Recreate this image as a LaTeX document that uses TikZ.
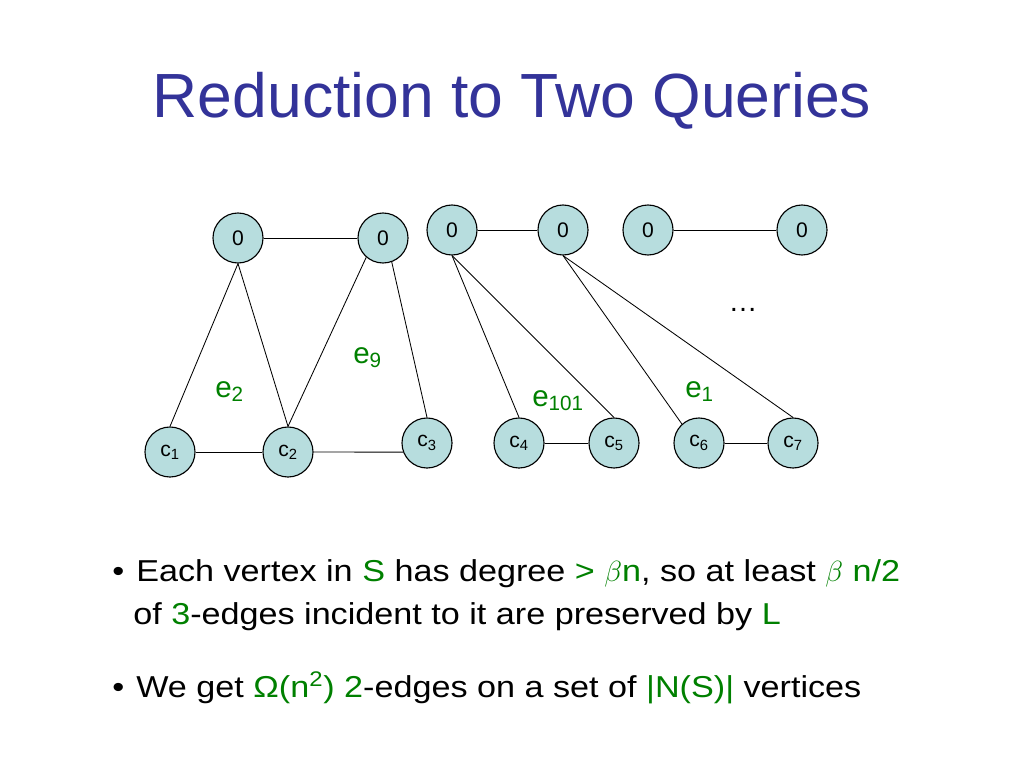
\documentclass[tikz,border=0pt]{standalone}
\usepackage{fontspec}
\setmainfont{Liberation Sans}
\newfontfamily\bodyfont{Liberation Sans}[FakeStretch=1.13]
\definecolor{titleBlue}{RGB}{51,51,153}
\definecolor{labelGreen}{RGB}{0,128,0}
\definecolor{nodeFill}{RGB}{183,221,222}

\begin{document}
\begin{tikzpicture}
[x=0.025cm,y=-0.025cm,
  lineDecorate/.style={-,line width=0.6pt},%
  nodeDecorate/.style={shape=circle,minimum size=1.25cm,inner sep=0pt,draw,line width=0.8pt,
    fill=nodeFill,font=\fontsize{15}{17}\selectfont},%
  edgeLabel/.style={anchor=base west,inner sep=0pt,text=labelGreen,font=\fontsize{21}{24}\selectfont},%
  bulletText/.style={anchor=base west,inner sep=0pt,font=\bodyfont\fontsize{21.5}{25}\selectfont}]
\useasboundingbox (0,0) rectangle (1024,768);
%% title
\node (title) at (512,118) [anchor=base,inner sep=0pt,text=titleBlue,
  font=\fontsize{44.4}{50}\selectfont] {Reduction to Two Queries};
%% nodes or vertices
\foreach \nodename/\x/\y/\txt in {
  a1/238/238/0, a2/383/238/0, a3/452/230/0, a4/563/230/0, a5/648/230/0, a6/802/230/0,
  c1/170/452/c\textsubscript{1}, c2/288/452/c\textsubscript{2}, c3/427/443/c\textsubscript{3},
  c4/519/443/c\textsubscript{4}, c5/614/443/c\textsubscript{5}, c6/699/443/c\textsubscript{6},
  c7/793/443/c\textsubscript{7}}
{
  \node (\nodename) at (\x,\y) [nodeDecorate] {\txt};
}
%% edges or lines
\foreach \startnode/\endnode in {
  a1/a2, a3/a4, a5/a6, c1/c2, c2.east/c3.201, c4/c5, c6/c7,
  a1.south/c1.north, a1.south/c2.north, a2.-131/c2.north, a2.-70/c3.north,
  a3.south/c4.north, a3.south/c5.north, a4.south/c6.132, a4.south/c7.north}
{
  \draw[lineDecorate] (\startnode) -- (\endnode);
}
%% edge labels
\node (e2) at (215,397) [edgeLabel] {e\textsubscript{2}};
\node (e9) at (353,363) [edgeLabel] {e\textsubscript{9}};
\node (e101) at (532,406) [edgeLabel] {e\textsubscript{101}};
\node (e1) at (685,397) [edgeLabel] {e\textsubscript{1}};
\node (dots) at (743,311) [anchor=base,inner sep=0pt,font=\fontsize{20.6}{24}\selectfont] {\ldots};
%% bullet text
\node (b1) at (112,581) [bulletText] {•};
\node (l1) at (136,581) [bulletText] {Each vertex in \textcolor{labelGreen}{S} has degree
  \textcolor{labelGreen}{> $\beta$n}, so at least \textcolor{labelGreen}{$\beta$ n/2}};
\node (l2) at (133,624) [bulletText] {of \textcolor{labelGreen}{3}-edges incident to it are
  preserved by \textcolor{labelGreen}{L}};
\node (b2) at (112,697) [bulletText] {•};
\node (l3) at (136,697) [bulletText] {We get \textcolor{labelGreen}{Ω(n\textsuperscript{2}) 2}-edges
  on a set of \textcolor{labelGreen}{|N(S)|} vertices};
\end{tikzpicture}
\end{document}
